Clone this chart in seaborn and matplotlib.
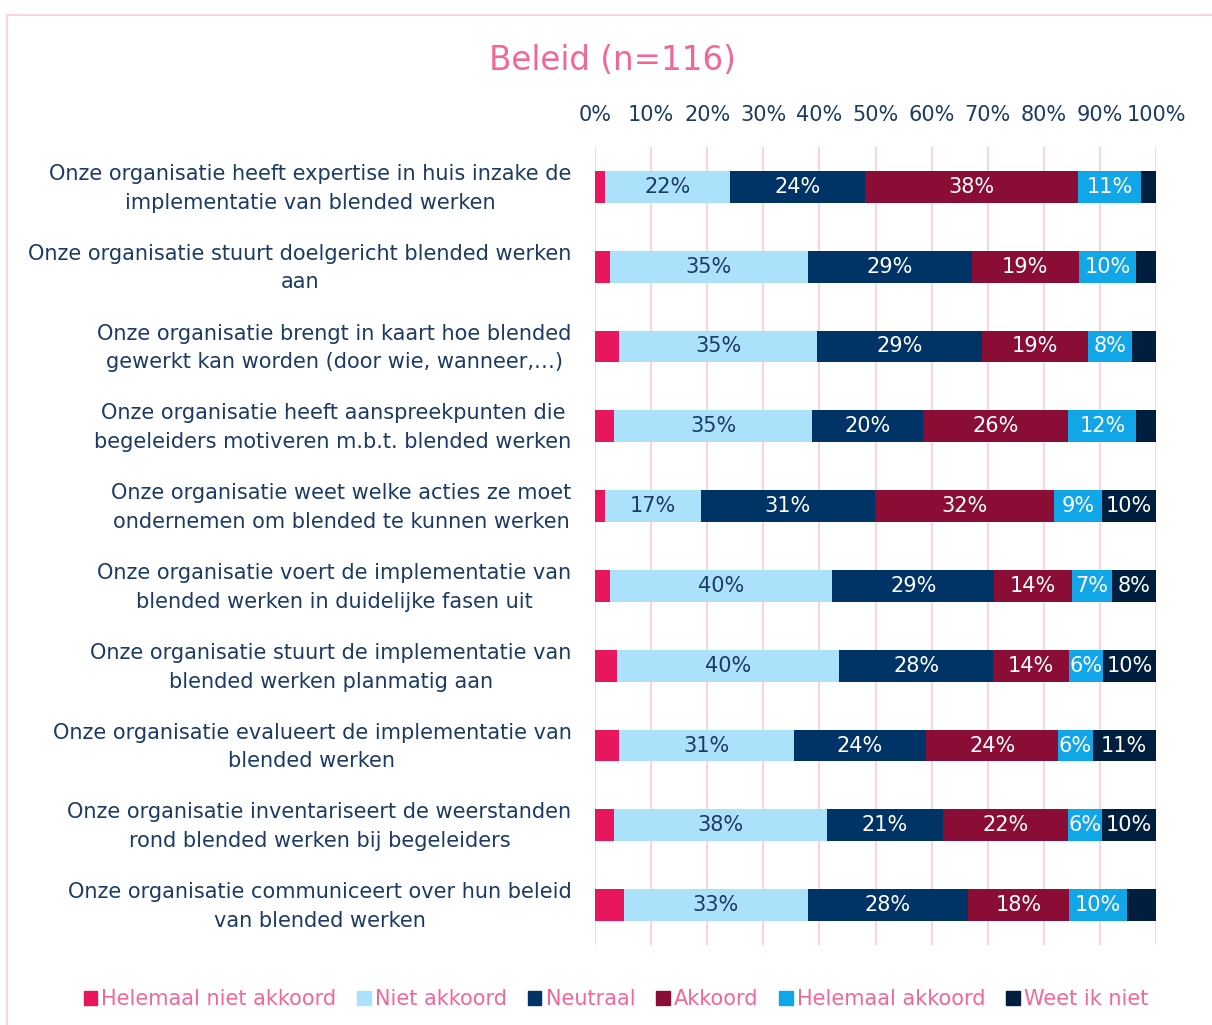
import matplotlib
matplotlib.use("Agg")
import matplotlib.pyplot as plt
import matplotlib.transforms as mtransforms
import seaborn as sns
import numpy as np
import pandas as pd
from matplotlib.patches import Rectangle

sns.set_style("white")
plt.rcParams['font.family'] = ['DejaVu Sans']

statements = [
    "Onze organisatie heeft expertise in huis inzake de\nimplementatie van blended werken",
    "Onze organisatie stuurt doelgericht blended werken\naan",
    "Onze organisatie brengt in kaart hoe blended\ngewerkt kan worden (door wie, wanneer,…)",
    "Onze organisatie heeft aanspreekpunten die\nbegeleiders motiveren m.b.t. blended werken",
    "Onze organisatie weet welke acties ze moet\nondernemen om blended te kunnen werken",
    "Onze organisatie voert de implementatie van\nblended werken in duidelijke fasen uit",
    "Onze organisatie stuurt de implementatie van\nblended werken planmatig aan",
    "Onze organisatie evalueert de implementatie van\nblended werken",
    "Onze organisatie inventariseert de weerstanden\nrond blended werken bij begeleiders",
    "Onze organisatie communiceert over hun beleid\nvan blended werken",
]
categories = ["Helemaal niet akkoord", "Niet akkoord", "Neutraal",
              "Akkoord", "Helemaal akkoord", "Weet ik niet"]

helemaal_niet_akkoord = [1.7, 2.6, 4.3, 3.4, 1.7, 2.6, 4.0, 4.2, 3.4, 5.1]
niet_akkoord          = [22.4, 35.3, 35.3, 35.3, 17.2, 39.7, 39.5, 31.2, 37.9, 32.9]
neutraal              = [24.1, 29.3, 29.3, 19.8, 31.0, 28.9, 27.5, 23.6, 20.7, 28.4]
akkoord               = [37.9, 19.0, 19.0, 25.9, 31.9, 13.8, 13.5, 23.6, 22.4, 18.1]
helemaal_akkoord      = [11.2, 10.3, 7.8, 12.1, 8.6, 7.1, 6.0, 6.1, 6.0, 10.3]
weet_ik_niet          = [2.7, 3.5, 4.3, 3.5, 9.6, 7.9, 9.5, 11.3, 9.6, 5.2]

tick_labels = ["0%", "10%", "20%", "30%", "40%", "50%", "60%", "70%", "80%", "90%", "100%"]

colors = ["#E8175D", "#ABE1FA", "#003366", "#8A0D36", "#11A6E8", "#001F3F"]
text_colors = [None, "#1B3A66", "white", "white", "white", "white"]
navy_text = "#1B3A66"
pink_text = "#F2669A"

series = [helemaal_niet_akkoord, niet_akkoord, neutraal, akkoord, helemaal_akkoord, weet_ik_niet]
vals = np.array(series, dtype=float)  # (6, 10)
cums = np.cumsum(vals, axis=0)
starts = cums - vals

W, H = 1212, 1025
fig = plt.figure(figsize=(W / 100, H / 100), dpi=100)
fig.patch.set_facecolor("white")

# outer pink frame
fig.patches.append(Rectangle((7 / W, -0.01), 1.05, (1025 - 15) / H + 0.01,
                             transform=fig.transFigure, fill=False,
                             edgecolor="#F8D5E1", linewidth=1.5))

ax = fig.add_axes([595 / W, 1 - 945 / H, (1156 - 595) / W, (945 - 147) / H])

df = pd.DataFrame({"statement": statements})
order = statements
# draw from last cumulative layer to first so they stack
for k in range(len(categories) - 1, -1, -1):
    d = df.copy()
    d["value"] = cums[k]
    sns.barplot(data=d, x="value", y="statement", order=order, orient="h",
                color=colors[k], width=0.4, ax=ax, saturation=1,
                linewidth=0, zorder=3, label=categories[k])

fs = 15
for k in range(len(categories)):
    for i in range(len(statements)):
        v = vals[k, i]
        if k > 0 and v >= 5.5:
            ax.text(starts[k, i] + v / 2, i, f"{v:.0f}%", ha="center", va="center",
                    color=text_colors[k], fontsize=fs, zorder=5)

ax.set_xlim(0, 100)
ax.set_ylim(len(statements) - 0.5, -0.5)
ax.set_xticks(np.arange(0, 101, 10))
ax.set_xticklabels(tick_labels)
ax.xaxis.tick_top()
ax.tick_params(axis="x", length=0, pad=16, labelsize=fs, labelcolor=navy_text)
ax.tick_params(axis="y", length=0, pad=17, labelsize=fs, labelcolor=navy_text)
shift = mtransforms.ScaledTranslation(0, 5 / 100, fig.dpi_scale_trans)
for lbl in ax.get_yticklabels():
    lbl.set_multialignment("center")
    lbl.set_linespacing(1.55)
    lbl.set_transform(lbl.get_transform() + shift)
ax.grid(axis="x", color="#F8D5E1", linewidth=1.5, zorder=0)
ax.set_axisbelow(True)
for s in ax.spines.values():
    s.set_visible(False)
ax.set_xlabel("")
ax.set_ylabel("")
if ax.get_legend() is not None:
    ax.get_legend().remove()

fig.text(612 / W, 1 - 60 / H, "Beleid (n=116)", ha="center", va="center",
         fontsize=23.5, color=pink_text)

handles = [Rectangle((0, 0), 1, 1, color=c) for c in colors]
leg = fig.legend(handles, categories, loc="center", bbox_to_anchor=(616 / W, 1 - 999 / H),
                 ncol=6, frameon=False, fontsize=fs, handlelength=0.65, handleheight=0.65,
                 handletextpad=0.2, columnspacing=1.0)
for t in leg.get_texts():
    t.set_color(pink_text)

fig.savefig("out.png", dpi=100)
